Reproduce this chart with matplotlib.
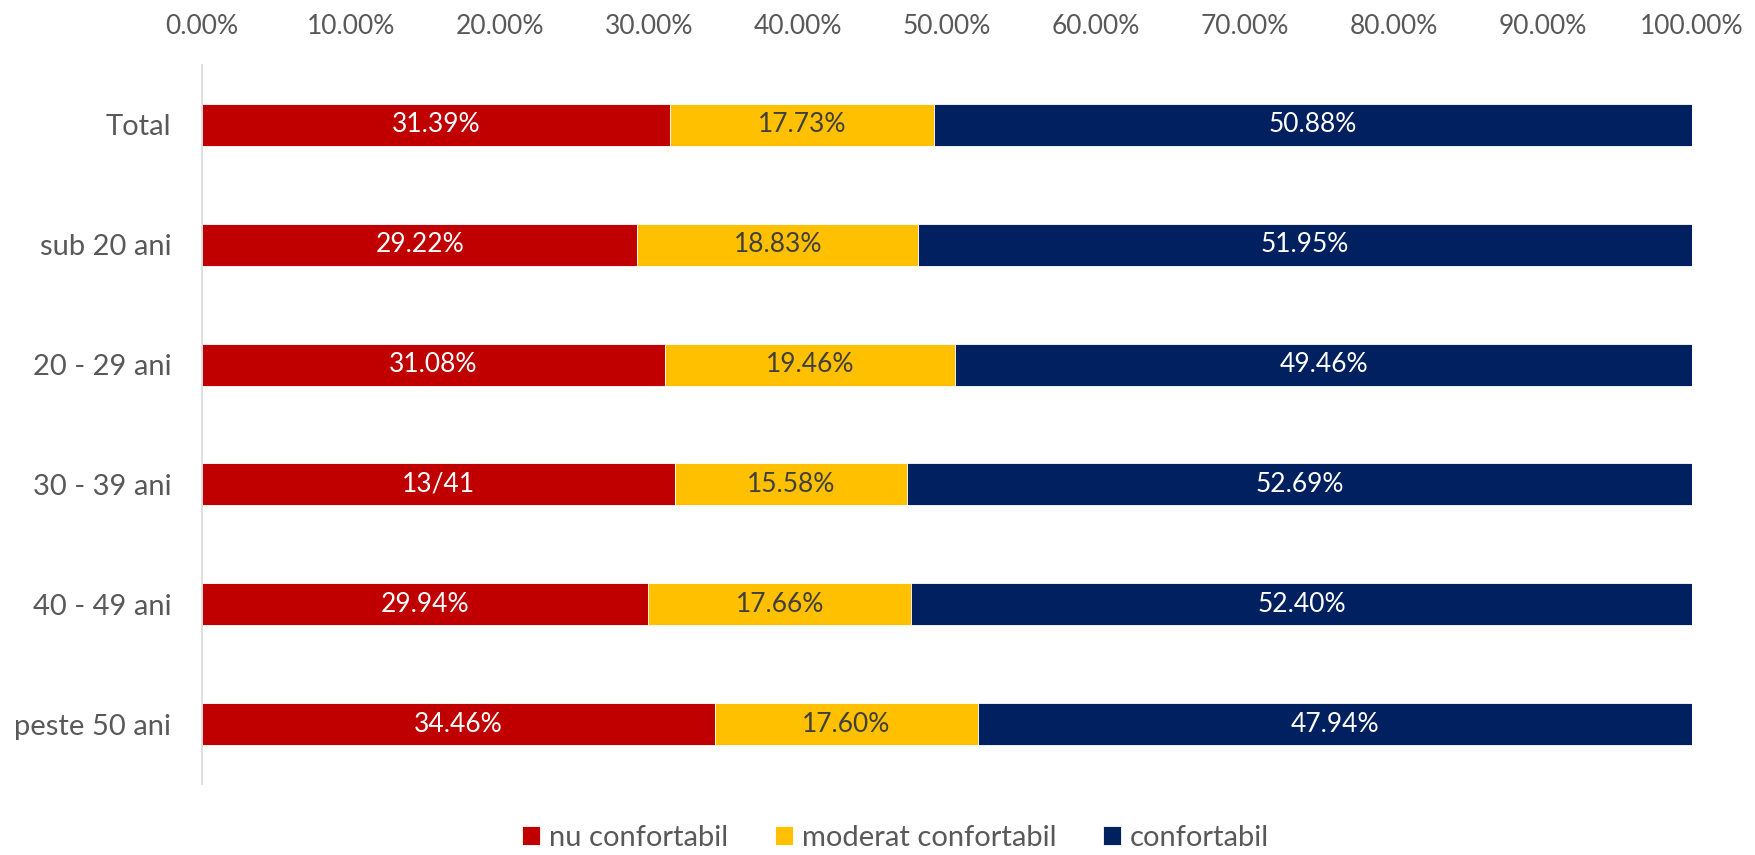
from matplotlib import pyplot as plt
from matplotlib.ticker import FuncFormatter
import numpy as np
import matplotlib
matplotlib.use("Agg")

plt.rcParams['font.family'] = ['Lato', 'DejaVu Sans']

categories = ['Total', 'sub 20 ani', '20 - 29 ani', '30 - 39 ani', '40 - 49 ani', 'peste 50 ani']
nu_conf = [31.39, 29.22, 31.08, 31.73, 29.94, 34.46]
moderat = [17.73, 18.83, 19.46, 15.58, 17.66, 17.60]
conf = [50.88, 51.95, 49.46, 52.69, 52.40, 47.94]
# the chart itself shows this odd label for the 30 - 39 red segment
nu_labels = ['31.39%', '29.22%', '31.08%', '13/41', '29.94%', '34.46%']

series = [
    ('nu confortabil', nu_conf, '#C00000', 'white'),
    ('moderat confortabil', moderat, '#FFC000', '#404040'),
    ('confortabil', conf, '#002060', 'white'),
]

pixelw, pixelh, dpi = 1756, 855, 100
fig = plt.figure(figsize=(pixelw/dpi, pixelh/dpi), dpi=dpi)
ax = fig.add_axes([202/pixelw, 1 - 784/pixelh, 1490/pixelw, 719/pixelh])

y = np.arange(len(categories))
left = np.zeros(len(categories))
for name, vals, col, tcol in series:
    vals = np.array(vals)
    bars = ax.barh(y, vals, left=left, height=0.35, color=col, label=name,
                   edgecolor='white', linewidth=0.6)
    if name == 'nu confortabil':
        labs = nu_labels
    else:
        labs = ['%.2f%%' % v for v in vals]
    ax.bar_label(bars, labels=labs, label_type='center', color=tcol, fontsize=19)
    left += vals

ax.set_xlim(0, 100)
ax.set_ylim(len(categories) - 0.5, -0.5)
ax.set_yticks(y)
ax.set_yticklabels(categories)
ax.set_xticks(np.arange(0, 101, 10))
ax.xaxis.set_major_formatter(FuncFormatter(lambda v, p: '%.2f%%' % v))
ax.xaxis.tick_top()
ax.tick_params(axis='x', length=0, pad=19, labelsize=19, labelcolor='#595959')
ax.tick_params(axis='y', length=0, pad=22, labelsize=21, labelcolor='#595959')

for s in ['top', 'right', 'bottom']:
    ax.spines[s].set_visible(False)
ax.spines['left'].set_color('#D9D9D9')
ax.spines['left'].set_linewidth(1.2)

fig.legend(loc='center', bbox_to_anchor=(0.51, 1 - 838/pixelh), ncol=3, frameon=False,
           fontsize=21, labelcolor='#595959', handlelength=0.62, handleheight=0.62,
           handletextpad=0.3, columnspacing=1.6)

fig.savefig('out.png', dpi=dpi)
